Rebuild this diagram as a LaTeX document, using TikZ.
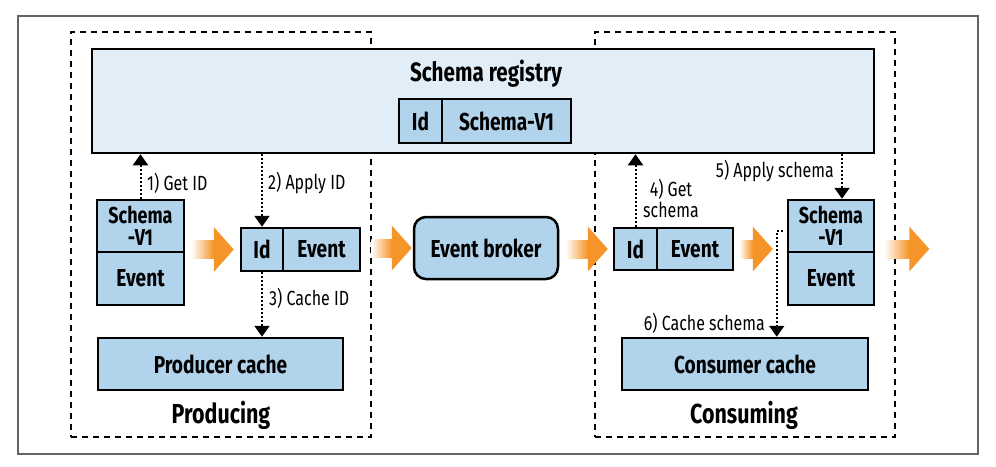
\documentclass[tikz,border=0pt]{standalone}
\usepackage{fontspec}
\setmainfont[FakeStretch=0.78]{Fira Sans}
\usetikzlibrary{arrows.meta,calc}
\definecolor{boxblue}{RGB}{178,211,236}
\definecolor{regblue}{RGB}{225,238,248}
\definecolor{arrowor}{RGB}{245,148,40}
\definecolor{framegray}{RGB}{100,100,100}
\newcommand\fatarrow[2]{%
  \shade[left color=white,right color=arrowor] let \p1=(#1), \p2=(#2) in
    (\x1,\y2-9pt) rectangle (\x2-20pt,\y2+9pt);
  \fill[arrowor] let \p2=(#2) in
    (\x2-20pt,\y2-22.5pt) -- (\x2,\y2) -- (\x2-20pt,\y2+22.5pt) -- cycle;
}
\begin{document}
\begin{tikzpicture}[x=1pt,y=-1pt,
  cell/.style={draw=black, line width=2.5pt, fill=boxblue, inner sep=0pt,
    font=\fontsize{24.5}{21}\selectfont\bfseries, align=center, text=black},
  twoline/.style={font=\fontsize{23}{22}\selectfont\bfseries},
  zone/.style={draw=black, line width=1.2pt, dash pattern=on 6pt off 5pt, inner sep=0pt},
  lbl/.style={inner sep=0pt, font=\fontsize{20.5}{21}\selectfont, text=black},
  title/.style={inner sep=0pt, font=\fontsize{26.5}{28}\selectfont\bfseries, text=black},
  zonetitle/.style={inner sep=0pt, font=\fontsize{27.5}{28}\selectfont\bfseries, text=black},
  dotarrow/.style={line width=2pt, dash pattern=on 2pt off 2pt,
    -{Triangle[width=15pt,length=11pt]}}
]
\useasboundingbox (0,0) rectangle (996,466);
\node[draw=framegray, line width=1.5pt, minimum width=960, minimum height=438, inner sep=0pt] (frame) at (498,235) {};

% zones
\node[zone, minimum width=300, minimum height=405] (prodzone) at (221,234.5) {};
\node[zone, minimum width=300, minimum height=405] (conszone) at (745,234.5) {};

% registry
\node[cell, fill=regblue, minimum width=782, minimum height=104] (reg) at (483,101) {};
\node[title] (regt) at (486,74) {Schema registry};
\node[cell, minimum width=43, minimum height=44] (rid) at (420.5,121) {Id};
\node[cell, minimum width=129, minimum height=44] (rsv) at (506.5,121) {Schema-V1};

% producer side
\node[cell, twoline, minimum width=87, minimum height=52] (ps1) at (140.5,226) {Schema\\-V1};
\node[cell, minimum width=87, minimum height=53] (ps2) at (140.5,278.5) {Event};
\node[cell, minimum width=42, minimum height=43] (pid) at (262,249.5) {Id};
\node[cell, minimum width=77, minimum height=43] (pev) at (321.5,249.5) {Event};
\node[cell, minimum width=245, minimum height=52] (pcache) at (220.5,364) {Producer cache};
\node[zonetitle] (prodt) at (221,415) {Producing};

% broker
\node[cell, rounded corners=12pt, minimum width=144, minimum height=62] (broker) at (486,248) {Event broker};

% consumer side
\node[cell, minimum width=43, minimum height=42] (cid) at (635.5,249) {Id};
\node[cell, minimum width=76, minimum height=42] (cev) at (695,249) {Event};
\node[cell, twoline, minimum width=86, minimum height=52] (cs1) at (831,226) {Schema\\-V1};
\node[cell, minimum width=86, minimum height=53] (cs2) at (831,278.5) {Event};
\node[cell, minimum width=246, minimum height=52] (ccache) at (745,364) {Consumer cache};
\node[zonetitle] (const) at (744,415) {Consuming};

% orange flow arrows
\coordinate (a1s) at ($(ps2.north east)+(6,0)$);
\coordinate (a1e) at ($(pid.west)+(-6,0)$);
\coordinate (a2s) at ($(pev.east)+(10,0)$);
\coordinate (a2e) at ($(broker.west)+(-1,0)$);
\coordinate (a3s) at ($(broker.east)+(6,0)$);
\coordinate (a3e) at ($(cid.west)+(-5,0)$);
\coordinate (a4s) at ($(cev.east)+(5,0)$);
\coordinate (a4m) at (cs1.west |- cev.east);
\coordinate (a4e) at ($(a4m)+(-14,0)$);
\coordinate (a5m) at (cs1.east |- cev.east);
\coordinate (a5s) at ($(a5m)+(9,0)$);
\coordinate (a5e) at ($(a5m)+(54,0)$);
\fatarrow{a1s}{a1e}
\fatarrow{a2s}{a2e}
\fatarrow{a3s}{a3e}
\fatarrow{a4s}{a4e}
\fatarrow{a5s}{a5e}

% dotted arrows
\draw[dotarrow] (ps1.north) -- (ps1.north |- reg.south);
\draw[dotarrow] (reg.south -| pid.north) -- (pid.north);
\draw[dotarrow] (pid.south) -- (pid.south |- pcache.north);
\draw[dotarrow] (cid.north) -- (cid.north |- reg.south);
\coordinate (k5) at ([xshift=11]cs1.north);
\draw[dotarrow] (reg.south -| k5) -- (k5);
\coordinate (k6a) at ([shift={(-4,5)}]cs1.west);
\coordinate (k6b) at ([shift={(-10,5)}]cs1.west);
\draw[dotarrow] (k6a) -- (k6b) -- (k6b |- ccache.north);

% labels
\node[lbl, anchor=west] (l1) at (147,183) {1) Get ID};
\node[lbl, anchor=west] (l2) at (268,183) {2) Apply ID};
\node[lbl, anchor=west] (l3) at (269,298) {3) Cache ID};
\node[lbl, align=center] (l4) at (671,198) {4) Get\\schema};
\node[lbl, anchor=east] (l5) at (834,171) {5) Apply schema};
\node[lbl, anchor=east] (l6) at (765,323) {6) Cache schema};
\end{tikzpicture}
\end{document}
